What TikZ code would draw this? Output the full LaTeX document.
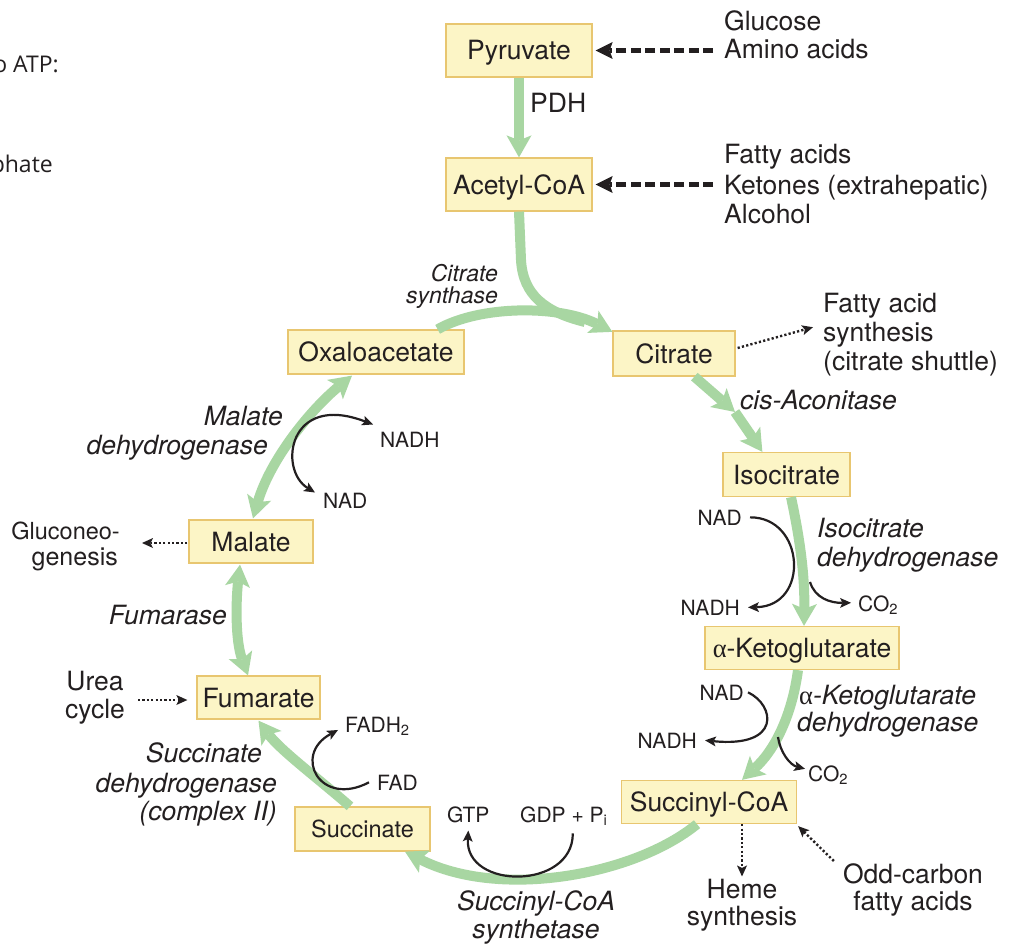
\documentclass[tikz,border=0pt]{standalone}
\usepackage{fontspec}
\setmainfont{TeX Gyre Heros}
\newfontfamily\grk{Liberation Serif}
\newfontfamily\opensans{Open Sans}
\usetikzlibrary{arrows.meta}
\definecolor{flowgreen}{RGB}{168,214,162}
\definecolor{boxfill}{RGB}{252,245,198}
\definecolor{boxline}{RGB}{232,198,112}
\definecolor{ink}{RGB}{35,31,32}
\tikzset{
  box/.style={draw=boxline, fill=boxfill, line width=1.3pt, inner sep=0pt,
    text height=19pt, text depth=0pt, text=ink, font=\fontsize{26.5}{30}\selectfont},
  lab/.style={inner sep=0pt, text=ink, font=\fontsize{26.5}{30}\selectfont},
  labi/.style={inner sep=0pt, text=ink, font=\fontsize{26.5}{30}\selectfont\itshape},
  labs/.style={inner sep=0pt, text=ink, font=\fontsize{23}{26}\selectfont\itshape},
  sm/.style={inner sep=0pt, text=ink, font=\fontsize{21}{24}\selectfont},
  gtip/.tip={Stealth[length=22pt,width=25pt,inset=5pt,line width=0pt]},
  ktip/.tip={Stealth[length=11pt,width=10pt,inset=2.5pt,line width=0pt]},
  flowline/.style={draw=flowgreen, line width=10pt},
  flow/.style={flowline, -gtip},
  flowtwo/.style={flowline, gtip-gtip},
  rxn/.style={draw=ink, line width=2.2pt, -ktip},
  rxntwo/.style={draw=ink, line width=2.2pt, ktip-ktip},
  dasharr/.style={draw=ink, line width=4.6pt, dash pattern=on 10pt off 4.5pt,
    -{Stealth[length=17pt,width=17pt,inset=3pt,line width=0pt]}},
  dotarr/.style={draw=ink, line width=2.4pt, dash pattern=on 2.2pt off 2.2pt, -ktip},
}
\begin{document}
\begin{tikzpicture}[x=1pt,y=-1pt]
\useasboundingbox (0,0) rectangle (1015,947);
\fill[white] (0,0) rectangle (1015,947);
\clip (0,0) rectangle (1015,947);

% clipped text at left edge
\node[inner sep=0pt, text=ink, anchor=base east, font=\opensans\fontsize{23}{26}\selectfont] (atp) at (59,73) {o ATP:};
\node[inner sep=0pt, text=ink, anchor=base east, font=\opensans\fontsize{23}{26}\selectfont] (phate) at (53,173) {phate};

% boxes
\node[box, minimum width=146pt, minimum height=53pt] (pyr) at (519,50.5) {Pyruvate};
\node[box, minimum width=146pt, minimum height=53pt] (acoa) at (519,184.5) {Acetyl-CoA};
\node[box, minimum width=122pt, minimum height=45pt] (cit) at (674,353.5) {Citrate};
\node[box, minimum width=176pt, minimum height=44pt] (oaa) at (376,352) {Oxaloacetate};
\node[box, minimum width=127pt, minimum height=44pt] (iso) at (786.5,474.5) {Isocitrate};
\node[box, minimum width=194pt, minimum height=43pt] (akg) at (802,648) {{\grk α}-Ketoglutarate};
\node[box, minimum width=175pt, minimum height=43pt] (scoa) at (709,802) {Succinyl-CoA};
\node[box, minimum width=135pt, minimum height=44pt, text height=17pt, font=\fontsize{23.5}{27}\selectfont] (succ) at (362.5,829) {Succinate};
\node[box, minimum width=123pt, minimum height=43pt] (fum) at (258.5,697.5) {Fumarate};
\node[box, minimum width=124pt, minimum height=43pt] (mal) at (251,541.5) {Malate};

% source / sink labels
\node[lab, anchor=base west] (glu) at (724,31) {Glucose};
\node[lab, anchor=base west] (amino) at (724,59) {Amino acids};
\node[lab, anchor=base west] (fatty) at (724,164) {Fatty acids};
\node[lab, anchor=base west] (keto) at (724,194) {Ketones (extrahepatic)};
\node[lab, anchor=base west] (alc) at (724,223) {Alcohol};
\node[lab, anchor=base west] (pdh) at (530,113) {PDH};
\node[lab, anchor=base west] (fa1) at (823,312) {Fatty acid};
\node[lab, anchor=base west] (fa2) at (823,341) {synthesis};
\node[lab, anchor=base west] (fa3) at (823,370) {(citrate shuttle)};
\node[lab, anchor=base] (heme) at (742,898) {Heme};
\node[lab, anchor=base] (hsyn) at (742,925) {synthesis};
\node[lab, anchor=base] (odd) at (913,883) {Odd-carbon};
\node[lab, anchor=base] (oddfa) at (913,910) {fatty acids};
\node[lab, anchor=base] (urea) at (95,690) {Urea};
\node[lab, anchor=base] (ucyc) at (95,718) {cycle};
\node[lab, anchor=base east, font=\fontsize{23.5}{27}\selectfont] (gluc1) at (120,539) {Gluconeo-};
\node[lab, anchor=base east, font=\fontsize{25}{28}\selectfont] (gluc2) at (118,565) {genesis};

% enzyme labels
\node[labs, anchor=base east] (cs1) at (498,281) {Citrate};
\node[labs, anchor=base east] (cs2) at (498,303) {synthase};
\node[labi, anchor=base west] (acon) at (740,409) {cis-Aconitase};
\node[labi, anchor=base west] (idh1) at (817,537) {Isocitrate};
\node[labi, anchor=base west] (idh2) at (817,566) {dehydrogenase};
\node[labi, anchor=base west] (kdh1) at (799,704) {{\grk\upshape α}-Ketoglutarate};
\node[labi, anchor=base west] (kdh2) at (797,731) {dehydrogenase};
\node[labi, anchor=base] (scs1) at (536,910) {Succinyl-CoA};
\node[labi, anchor=base] (scs2) at (536,938) {synthetase};
\node[labi, anchor=base east] (sdh1) at (262,762) {Succinate};
\node[labi, anchor=base east] (sdh2) at (277,792) {dehydrogenase};
\node[labi, anchor=base east] (sdh3) at (277,820) {(complex II)};
\node[labi, anchor=base east] (fumase) at (227,624) {Fumarase};
\node[labi, anchor=base east] (mdh1) at (283,425) {Malate};
\node[labi, anchor=base east] (mdh2) at (268,454) {dehydrogenase};

% cofactor labels
\node[sm, anchor=base west] (nadhC) at (380,447) {NADH};
\node[sm, anchor=base west] (nadC) at (323,508) {NAD};
\node[sm, anchor=base east] (nadA) at (742,525) {NAD};
\node[sm, anchor=base east] (nadhA) at (740,615) {NADH};
\node[sm, anchor=base west] (co2A) at (858,611) {CO\textsubscript{2}};
\node[sm, anchor=base east] (nadB) at (744,700) {NAD};
\node[sm, anchor=base east] (nadhB) at (697,748) {NADH};
\node[sm, anchor=base west] (co2B) at (808,781) {CO\textsubscript{2}};
\node[sm, anchor=base west] (fadh) at (345,732) {FADH\textsubscript{2}};
\node[sm, anchor=base west] (fad) at (377,790) {FAD};
\node[sm, anchor=base west] (gtp) at (447,822) {GTP};
\node[sm, anchor=base west] (gdp) at (520,822) {GDP + P\textsubscript{i}};

% free-end coordinates
\coordinate (cisA) at (735,412);
\coordinate (co2Astart) at (810,582);
\coordinate (co2Bstart) at (778,737);
\coordinate (ureaS) at (138,700);
\coordinate (glucT) at (142,543);
\coordinate (acj) at (585,322);

% green main flow
\draw[flow] (pyr.south) -- (acoa.north);
\draw[flowline] (acoa.south) -- (521,260) .. controls (523,295) and (545,312) .. (acj);
\draw[flow] ([xshift=-27pt]oaa.north east) .. controls (480,305) and (560,305) .. ([yshift=-1.5pt]cit.north west);
\draw[flow] ([xshift=82pt]cit.south west) -- (cisA);
\draw[flow] (cisA) -- ([xshift=40pt]iso.north west);
\draw[flow] ([xshift=4.5pt]iso.south) .. controls (798,530) and (805,570) .. ([xshift=2pt]akg.north);
\draw[flow] ([xshift=-4pt]akg.south) .. controls (792,715) and (775,750) .. ([xshift=33pt]scoa.north);
\draw[flow] ([xshift=-12pt]scoa.south) .. controls (635,875) and (500,900) .. ([xshift=42.5pt]succ.south);
\draw[flow] ([xshift=-12.5pt]succ.north) .. controls (320,780) and (280,750) .. ([yshift=-1pt]fum.south);
\draw[flowtwo] ([xshift=-10.5pt]fum.north) .. controls (235,640) and (236,600) .. ([xshift=-11pt,yshift=-1pt]mal.south);
\draw[flowtwo] ([xshift=2pt,yshift=1pt]mal.north) .. controls (270,460) and (310,410) .. ([xshift=-24pt,yshift=-1pt]oaa.south);

% dashed inputs
\draw[dasharr] ([xshift=-11pt]amino.west |- pyr.east) -- ([xshift=3pt]pyr.east);
\draw[dasharr] ([xshift=-11pt]keto.west |- acoa.east) -- ([xshift=3pt]acoa.east);

% dotted side paths
\draw[dotarr] ([xshift=2pt,yshift=5.5pt]cit.east) -- ([xshift=-10pt,yshift=7pt]fa2.west);
\draw[dotarr] (heme.north |- scoa.south) -- ([yshift=2pt]heme.north);
\draw[dotarr] ([xshift=-9pt,yshift=2pt]odd.north west) -- ([xshift=1pt,yshift=-2pt]scoa.south east);
\draw[dotarr] (ureaS) -- ([xshift=-9pt]fum.west |- ureaS);
\draw[dotarr] ([xshift=-1pt]mal.west |- glucT) -- (glucT);

% cofactor reactions
\draw[rxntwo] ([xshift=-8pt]nadC.north west) .. controls (278,470) and (288,392) .. ([xshift=-7pt,yshift=7pt]nadhC.north west);
\draw[rxn] ([xshift=8pt]nadA.east) .. controls (805,517) and (810,606) .. ([xshift=8pt]nadhA.east);
\draw[rxn] (co2Astart) .. controls (815,598) and (830,603) .. ([xshift=-7pt,yshift=2pt]co2A.west);
\draw[rxn] ([xshift=4pt]nadB.east) .. controls (775,705) and (782,748) .. ([xshift=8pt]nadhB.east);
\draw[rxn] (co2Bstart) .. controls (780,752) and (790,765) .. ([xshift=-3pt,yshift=6pt]co2B.west);
\draw[rxn] ([xshift=-8pt]fad.west) .. controls (320,808) and (292,755) .. ([xshift=-7pt,yshift=-4pt]fadh.west);
\draw[rxn] ([xshift=9pt,yshift=-8pt]gdp.south) .. controls (573,890) and (465,890) .. ([yshift=-8pt]gtp.south);
\end{tikzpicture}
\end{document}
